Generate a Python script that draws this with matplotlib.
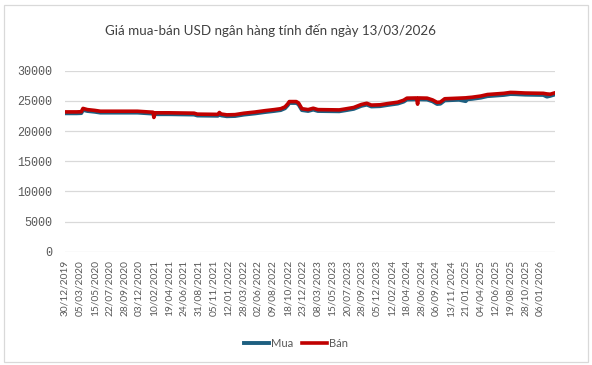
import numpy as np
import pandas as pd
import matplotlib
matplotlib.use("Agg")
import matplotlib.pyplot as plt
from matplotlib.patches import Rectangle

# ---------------- dữ liệu ----------------
ngay = ["2019-12-30", "2020-02-20", "2020-03-12", "2020-03-20", "2020-04-10",
        "2020-05-15", "2020-06-10", "2020-11-25", "2021-01-20", "2021-02-05",
        "2021-02-09", "2021-02-15", "2021-04-20", "2021-08-10", "2021-08-25",
        "2021-11-25", "2021-12-02", "2021-12-10", "2022-01-05", "2022-02-15",
        "2022-03-31", "2022-05-20", "2022-07-05", "2022-08-15", "2022-09-15",
        "2022-10-05", "2022-10-18", "2022-10-25", "2022-11-25", "2022-12-05",
        "2022-12-20", "2023-01-20", "2023-02-15", "2023-03-10", "2023-06-15",
        "2023-07-10", "2023-08-20", "2023-09-25", "2023-10-20", "2023-11-10",
        "2023-12-20", "2024-01-25", "2024-03-10", "2024-04-05", "2024-04-20",
        "2024-06-05", "2024-06-10", "2024-06-14", "2024-07-25", "2024-08-20",
        "2024-09-10", "2024-09-25", "2024-10-15", "2024-12-20", "2025-01-20",
        "2025-01-28", "2025-02-20", "2025-04-04", "2025-05-05", "2025-06-12",
        "2025-07-20", "2025-08-19", "2025-09-10", "2025-10-28", "2025-12-15",
        "2026-01-20", "2026-02-05", "2026-02-20", "2026-03-05", "2026-03-13"]

ban = [23170, 23170, 23200, 23750, 23550,
       23420, 23280, 23280, 23150, 23120,
       22250, 23020, 23020, 22960, 22800,
       22760, 23070, 22820, 22680, 22720,
       22950, 23150, 23380, 23550, 23700,
       24000, 24500, 24880, 24880, 24650,
       23700, 23550, 23780, 23550, 23500,
       23650, 23900, 24400, 24600, 24300,
       24350, 24550, 24780, 25100, 25450,
       25480, 24450, 25480, 25450, 25150,
       24750, 24800, 25350, 25450, 25500,
       25530, 25600, 25800, 26050, 26150,
       26250, 26400, 26380, 26300, 26270,
       26250, 26150, 26100, 26250, 26330]

mua = [22940, 22940, 22970, 23500, 23320,
       23190, 23050, 23050, 22920, 22890,
       22890, 22790, 22790, 22730, 22570,
       22530, 22840, 22590, 22450, 22490,
       22720, 22920, 23150, 23320, 23470,
       23770, 24270, 24650, 24650, 24420,
       23470, 23320, 23550, 23320, 23270,
       23420, 23670, 24170, 24370, 24070,
       24120, 24320, 24550, 24870, 25220,
       25250, 25250, 25250, 25220, 24920,
       24480, 24530, 25080, 25180, 24950,
       25260, 25330, 25530, 25780, 25880,
       25980, 26130, 26110, 26030, 26000,
       25980, 25700, 25830, 25980, 26060]

nhan_truc_x = ["30/12/2019", "05/03/2020", "15/05/2020", "22/07/2020", "28/09/2020",
               "03/12/2020", "10/02/2021", "19/04/2021", "24/06/2021", "31/08/2021",
               "05/11/2021", "12/01/2022", "28/03/2022", "02/06/2022", "09/08/2022",
               "18/10/2022", "23/12/2022", "08/03/2023", "15/05/2023", "20/07/2023",
               "28/09/2023", "05/12/2023", "12/02/2024", "18/04/2024", "28/06/2024",
               "06/09/2024", "13/11/2024", "21/01/2025", "04/04/2025", "12/06/2025",
               "19/08/2025", "28/10/2025", "06/01/2026"]

# ---------------- trục danh mục kiểu Excel ----------------
ngay_tick = pd.to_datetime(nhan_truc_x, format="%d/%m/%Y")
ord_tick = np.array([d.toordinal() for d in ngay_tick], dtype=float)
ord_tick = np.append(ord_tick, ord_tick[-1] + 66)  # mốc cuối 13/03/2026
vi_tri_tick = np.arange(len(ord_tick), dtype=float)

ord_data = np.array([d.toordinal() for d in pd.to_datetime(ngay)], dtype=float)
x = np.interp(ord_data, ord_tick, vi_tri_tick)

# ---------------- vẽ ----------------
fig = plt.figure(figsize=(5.92, 3.65), dpi=100)
ax = fig.add_axes([65 / 592, 1 - 251.7 / 365, (555 - 65) / 592, (251.7 - 70.7) / 365])

ax.plot(x, mua, color="#1d5f80", lw=2.8, label="Mua", solid_joinstyle="round")
ax.plot(x, ban, color="#c00000", lw=2.6, label="Bán", solid_joinstyle="round")

ax.set_ylim(0, 30000)
ax.set_xlim(0, x[-1])
ax.set_yticks(np.arange(0, 30001, 5000))
ax.set_xticks(np.arange(len(nhan_truc_x)))
ax.set_xticklabels(nhan_truc_x, rotation=90, fontsize=7.3, family="Lato", color="#595959")
for t in ax.get_yticklabels():
    t.set_family("Liberation Mono")
    t.set_fontsize(8.5)
    t.set_color("#595959")
ax.tick_params(axis="y", length=0, pad=9)
ax.tick_params(axis="x", length=0, pad=6)

ax.yaxis.grid(True, color="#d9d9d9", lw=0.9)
ax.set_axisbelow(True)
for s in ax.spines.values():
    s.set_visible(False)

fig.text(0.456, 0.917, "Giá mua-bán USD ngân hàng tính đến ngày 13/03/2026",
         ha="center", va="center", fontsize=9.6, family="Lato", color="#404040")

fig.legend(loc="center", bbox_to_anchor=(0.5, 0.06), ncol=2, frameon=False,
           prop={"family": "Lato", "size": 8}, labelcolor="#595959",
           handlelength=2.2, handletextpad=0.2, columnspacing=0.8)

fig.patches.append(Rectangle((4 / 592, 3.3 / 365), 584 / 592, 356.7 / 365,
                             transform=fig.transFigure, fill=False,
                             edgecolor="#d9d9d9", lw=0.9))

fig.savefig("out.png", dpi=100)
